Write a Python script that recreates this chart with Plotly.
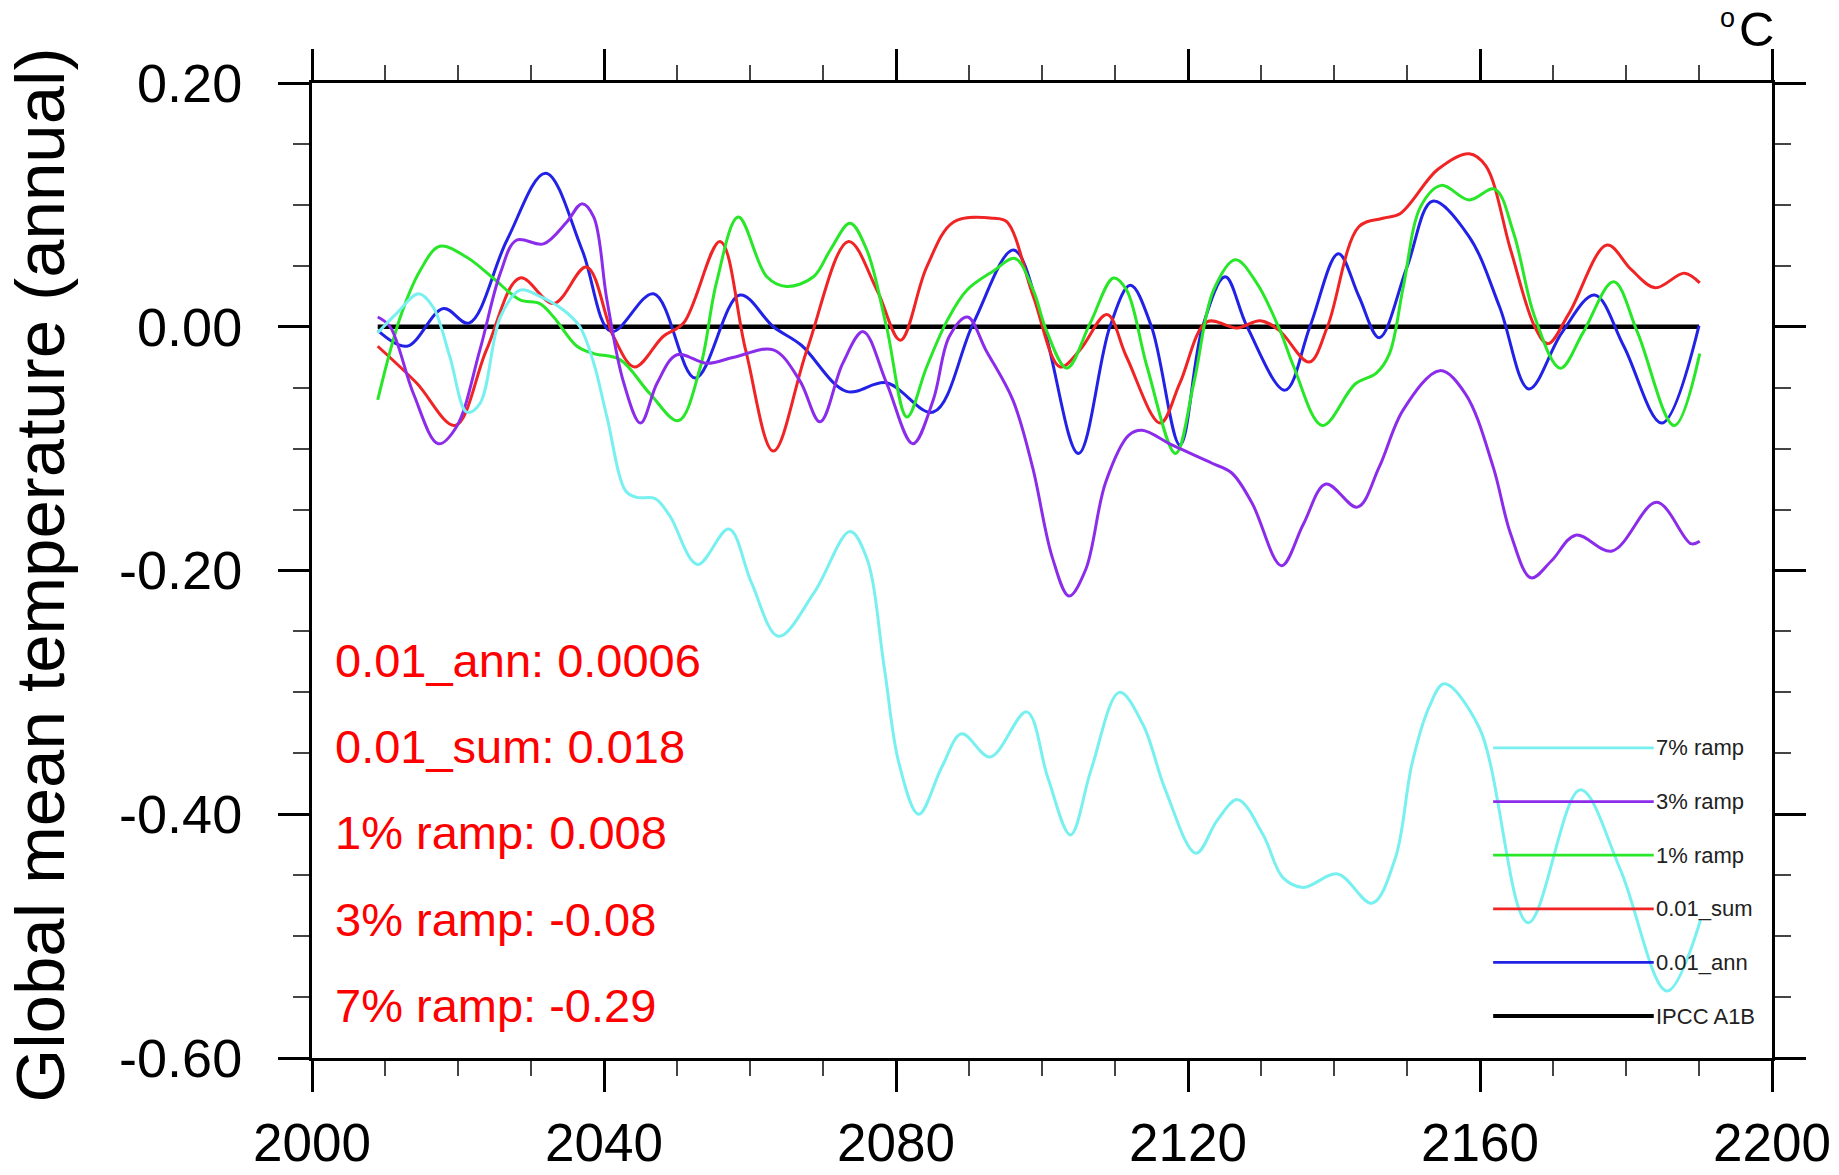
import plotly.graph_objects as go

# ---------------- data ----------------
years_ann = [2009, 2013, 2018, 2021.5, 2026.7, 2032, 2037, 2041, 2046.8, 2052.5, 2058.6, 2063.2, 2067,
             2073.2, 2078.7, 2085.1, 2090.6, 2096.1, 2100.2, 2105, 2109.3, 2112.1, 2115, 2118.9, 2122,
             2125.1, 2128.1, 2133.3, 2136.7, 2140.6, 2143.4, 2146.2, 2150, 2153.5, 2158.5, 2162.7,
             2166.7, 2171.2, 2175.7, 2179.7, 2184.9, 2190]
temp_ann = [-0.003, -0.016, 0.015, 0.003, 0.071, 0.126, 0.063, -0.004, 0.027, -0.042, 0.026, 0.0, -0.015,
            -0.053, -0.046, -0.070, 0.003, 0.063, 0.0, -0.104, 0.0, 0.034, 0.0, -0.097, 0.0,
            0.041, 0.0, -0.052, 0.0, 0.060, 0.025, -0.009, 0.049, 0.103, 0.074, 0.016,
            -0.051, -0.005, 0.026, -0.016, -0.079, 0.001]

years_sum = [2009, 2014.3, 2019.6, 2023.9, 2028.5, 2033.1, 2037.6, 2041.3, 2044.2, 2048.1, 2050.9, 2055.9,
             2059.4, 2063.2, 2067.8, 2073.5, 2077.4, 2080.6, 2084.2, 2087.9, 2093.4, 2095.2, 2098.8,
             2102.5, 2105.2, 2108.9, 2111.6, 2116.2, 2118.9, 2122.6, 2126.7, 2129.9, 2132.5, 2136.6,
             2139.1, 2143.4, 2146.7, 2149.1, 2154.2, 2158.5, 2160.8, 2164.2, 2167.5, 2169.3, 2172.2,
             2177.4, 2180.7, 2184.0, 2188.0, 2190.1]
temp_sum = [-0.016, -0.046, -0.081, -0.019, 0.040, 0.019, 0.049, -0.008, -0.033, -0.008, 0.003, 0.070,
            -0.019, -0.102, -0.019, 0.070, 0.030, -0.011, 0.049, 0.086, 0.089, 0.086, 0.025,
            -0.033, -0.019, 0.010, -0.025, -0.079, -0.046, 0.004, -0.001, 0.005, -0.003, -0.029,
            0.0, 0.082, 0.089, 0.093, 0.129, 0.142, 0.132, 0.063, 0.0, -0.014, 0.011,
            0.067, 0.047, 0.032, 0.044, 0.036]

years_r1 = [2009, 2012.1, 2014.8, 2017.5, 2021.2, 2024.8, 2028.5, 2031.2, 2033.1, 2036.3, 2038.6, 2042.2,
            2046.3, 2050.2, 2053.2, 2055.4, 2058.4, 2062.3, 2065.0, 2068.7, 2071.0, 2073.7, 2076.0,
            2078.7, 2081.5, 2084.2, 2087.0, 2089.7, 2093.4, 2096.3, 2098.8, 2100.6, 2103.4, 2106.6,
            2109.8, 2111.6, 2114.4, 2118.3, 2120.8, 2123.5, 2126.5, 2129.4, 2132.6, 2134.5, 2138.4,
            2142.9, 2145.8, 2147.6, 2149.5, 2151.9, 2154.7, 2158.5, 2162.0, 2164.6, 2167.5, 2171.0,
            2174.1, 2178.3, 2181.6, 2186.6, 2190.1]
temp_r1 = [-0.060, 0.008, 0.046, 0.066, 0.057, 0.040, 0.022, 0.019, 0.008, -0.016, -0.022, -0.027,
           -0.055, -0.077, -0.033, 0.036, 0.090, 0.041, 0.033, 0.041, 0.063, 0.085, 0.063,
           0.0, -0.074, -0.033, 0.005, 0.030, 0.046, 0.056, 0.030, -0.003, -0.034, 0.003,
           0.040, 0.030, -0.033, -0.104, -0.046, 0.030, 0.055, 0.036, -0.003, -0.033, -0.081,
           -0.047, -0.038, -0.022, 0.033, 0.099, 0.116, 0.104, 0.113, 0.077, 0.008, -0.034,
           -0.005, 0.037, -0.005, -0.081, -0.022]

years_r3 = [2009, 2010.7, 2013.9, 2017.3, 2019.8, 2023.0, 2025.8, 2028.0, 2031.7, 2034.9, 2037.0, 2038.6,
            2040.4, 2042.7, 2045.0, 2047.3, 2050.0, 2054.1, 2057.8, 2063.2, 2066.8, 2069.6, 2072.7,
            2075.5, 2078.7, 2082.3, 2085.1, 2087.3, 2089.8, 2092.3, 2096.0, 2098.7, 2101.4, 2103.7,
            2106.0, 2108.7, 2111.9, 2113.7, 2117.8, 2123.3, 2126.0, 2128.8, 2132.8, 2135.8, 2138.9,
            2143.2, 2146.2, 2149.5, 2154.5, 2158.0, 2161.8, 2164.2, 2167.0, 2169.8, 2173.1, 2178.1,
            2184.2, 2188.9, 2190.1]
temp_r3 = [0.008, 0.0, -0.055, -0.096, -0.082, -0.019, 0.044, 0.071, 0.068, 0.086, 0.101, 0.090,
           0.022, -0.046, -0.079, -0.046, -0.023, -0.030, -0.025, -0.019, -0.044, -0.078, -0.030,
           -0.004, -0.046, -0.096, -0.060, -0.008, 0.008, -0.019, -0.060, -0.115, -0.189, -0.221,
           -0.199, -0.128, -0.089, -0.085, -0.097, -0.112, -0.120, -0.145, -0.196, -0.162, -0.129,
           -0.148, -0.115, -0.068, -0.036, -0.055, -0.115, -0.170, -0.206, -0.192, -0.171, -0.184,
           -0.144, -0.178, -0.176]

years_r7 = [2009, 2011.6, 2014.6, 2016.6, 2018.9, 2021.2, 2023.0, 2025.8, 2028.5, 2031.2, 2034.4, 2036.7,
            2038.6, 2040.4, 2043.0, 2044.5, 2047.0, 2049.0, 2052.8, 2057.1, 2060.2, 2063.9, 2068.8,
            2073.7, 2076.0, 2078.4, 2080.4, 2083.1, 2086.3, 2089.0, 2092.9, 2097.9, 2100.8, 2103.9,
            2106.7, 2110.6, 2113.8, 2116.9, 2121.1, 2124.0, 2126.8, 2130.3, 2133.0, 2135.8, 2140.5,
            2145.2, 2148.4, 2150.7, 2153.1, 2155.1, 2159.9, 2166.6, 2173.7, 2179.2, 2185.6, 2190.2]
temp_r7 = [-0.005, 0.011, 0.027, 0.016, -0.025, -0.070, -0.063, 0.008, 0.030, 0.025, 0.014, 0.0,
           -0.030, -0.074, -0.135, -0.140, -0.141, -0.155, -0.195, -0.166, -0.210, -0.254, -0.218,
           -0.168, -0.190, -0.280, -0.358, -0.400, -0.361, -0.334, -0.353, -0.316, -0.370, -0.417,
           -0.364, -0.300, -0.326, -0.380, -0.432, -0.405, -0.388, -0.417, -0.452, -0.460, -0.449,
           -0.473, -0.436, -0.358, -0.311, -0.293, -0.329, -0.489, -0.380, -0.445, -0.545, -0.487]

years_ipcc = [2009, 2190]
temp_ipcc = [0.0, 0.0]

stat_names = ["0.01_ann", "0.01_sum", "1% ramp", "3% ramp", "7% ramp"]
stat_values = ["0.0006", "0.018", "0.008", "-0.08", "-0.29"]

x_tick_vals = [2000, 2040, 2080, 2120, 2160, 2200]
x_tick_labels = ["2000", "2040", "2080", "2120", "2160", "2200"]
y_tick_vals = [-0.6, -0.4, -0.2, 0.0, 0.2]
y_tick_labels = ["-0.60", "-0.40", "-0.20", "0.00", "0.20"]

# ---------------- styling ----------------
FONT = "Liberation Sans, Arial, Helvetica, sans-serif"
series = [
    ("IPCC A1B", years_ipcc, temp_ipcc, "#000000", 4.5, 4.0),
    ("0.01_ann", years_ann, temp_ann, "#2222E6", 3.0, 2.7),
    ("0.01_sum", years_sum, temp_sum, "#F02424", 3.0, 2.7),
    ("1% ramp", years_r1, temp_r1, "#28E628", 3.0, 2.7),
    ("3% ramp", years_r3, temp_r3, "#8C2CEB", 3.0, 2.7),
    ("7% ramp", years_r7, temp_r7, "#78F0F0", 3.0, 2.7),
]

fig = go.Figure()
for name, xs, ys, color, w, _ in series:
    fig.add_trace(go.Scatter(x=xs, y=ys, mode="lines", name=name,
                             line=dict(color=color, width=w, shape="spline", smoothing=1.0),
                             showlegend=False))

annotations = []
shapes = []

# red statistics text
stat_x0, stat_y0, stat_dy = 0.0144, 0.408, 0.0885
for i, (n, v) in enumerate(zip(stat_names, stat_values)):
    annotations.append(dict(text=f"{n}: {v}", xref="paper", yref="paper",
                            x=stat_x0, y=stat_y0 - i * stat_dy, xanchor="left", yanchor="middle",
                            showarrow=False, font=dict(family=FONT, size=47, color="#FF0000")))

# custom legend (top to bottom: reverse drawing order)
leg_x0, leg_x1, leg_y0, leg_dy = 0.809, 0.919, 0.318, 0.055
for i, (name, _, _, color, _, lw) in enumerate(reversed(series)):
    yy = leg_y0 - i * leg_dy
    shapes.append(dict(type="line", xref="paper", yref="paper", x0=leg_x0, x1=leg_x1,
                       y0=yy, y1=yy, line=dict(color=color, width=lw)))
    annotations.append(dict(text=name, xref="paper", yref="paper", x=leg_x1, y=yy,
                            xanchor="left", yanchor="middle", showarrow=False,
                            font=dict(family=FONT, size=22, color="#222222")))

# y-axis title
annotations.append(dict(text="Global mean temperature (annual)", xref="paper", yref="paper",
                        x=-0.1863, y=0.495, textangle=-90, xanchor="center", yanchor="middle",
                        showarrow=False, font=dict(family=FONT, size=69, color="#000000")))
# units (small raised "o" followed by "C")
annotations.append(dict(text="o", xref="paper", yref="paper", x=0.9695, y=1.0841,
                        xanchor="center", yanchor="top", showarrow=False,
                        font=dict(family=FONT, size=27, color="#000000")))
annotations.append(dict(text="C", xref="paper", yref="paper", x=1.0, y=1.0549,
                        xanchor="right", yanchor="middle", xshift=4, showarrow=False,
                        font=dict(family=FONT, size=49, color="#000000")))

axis_common = dict(showline=True, linewidth=3, linecolor="#000000", mirror="allticks",
                   ticks="outside", ticklen=31, tickwidth=3, tickcolor="#000000",
                   showgrid=False, zeroline=False, automargin=False)

fig.update_layout(
    width=1839, height=1175,
    margin=dict(l=312, r=67, t=83, b=117),
    paper_bgcolor="#FFFFFF", plot_bgcolor="#FFFFFF",
    showlegend=False,
    xaxis=dict(range=[2000, 2200], tickmode="array", tickvals=x_tick_vals, ticktext=x_tick_labels,
               ticklabelstandoff=5, tickfont=dict(family=FONT, size=53, color="#000000"),
               minor=dict(tickmode="linear", tick0=2000, dtick=10, ticks="outside", ticklen=15,
                          tickwidth=2, tickcolor="#444444", showgrid=False),
               **axis_common),
    yaxis=dict(range=[-0.6, 0.2], tickmode="array", tickvals=y_tick_vals, ticktext=y_tick_labels,
               ticklabelstandoff=25, tickfont=dict(family=FONT, size=54, color="#000000"),
               minor=dict(tickmode="linear", tick0=0, dtick=0.05, ticks="outside", ticklen=16,
                          tickwidth=2, tickcolor="#444444", showgrid=False),
               **axis_common),
    annotations=annotations,
    shapes=shapes,
)

fig.write_html("out.html", config={"displayModeBar": False},
               post_script="document.body.style.margin='0';")
